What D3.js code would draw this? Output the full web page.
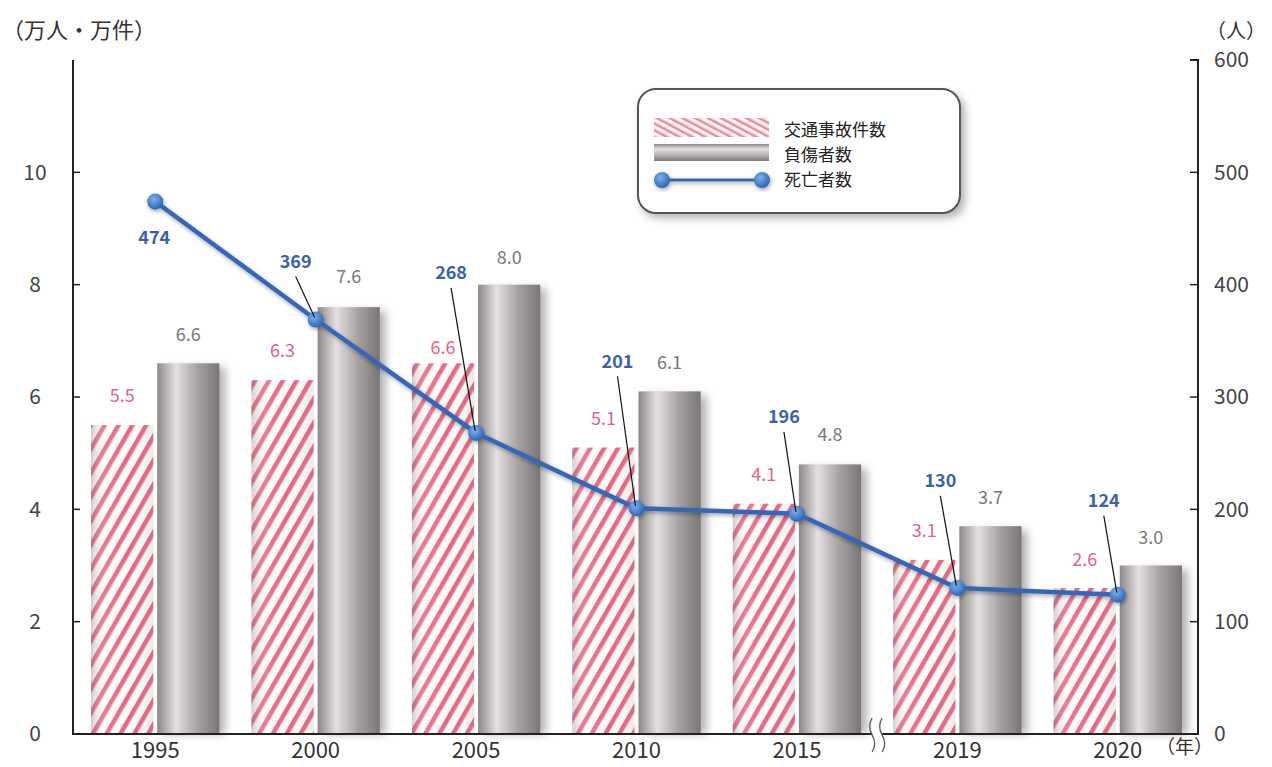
<!DOCTYPE html>
<html>
<head>
<meta charset="utf-8">
<script src="https://cdn.jsdelivr.net/npm/d3@7"></script>
<style>
  body { margin: 0; background: #fff; }
  svg text { font-family: "Noto Sans CJK JP", "Noto Sans", sans-serif; }
</style>
</head>
<body>
<div id="chart"></div>
<script>
var width = 1272;
var height = 767;

// data
var years = ["1995", "2000", "2005", "2010", "2015", "2019", "2020"];
var accidents = [5.5, 6.3, 6.6, 5.1, 4.1, 3.1, 2.6];   // 交通事故件数 (万件)
var injured = [6.6, 7.6, 8.0, 6.1, 4.8, 3.7, 3.0];     // 負傷者数 (万人)
var deaths = [474, 369, 268, 201, 196, 130, 124];      // 死亡者数 (人)
var leftTicks = [0, 2, 4, 6, 8, 10];
var rightTicks = [0, 100, 200, 300, 400, 500, 600];

// label placement tweaks (px), the source places some labels by hand
var accLabelDy = [-29, -29, -16, -29, -29, -29, -28];
var injLabelDy = [-29, -30, -27, -29, -30, -28, -28];
var deathLabelOff = [[-1, 36], [-20, -58], [-25, -160], [-19, -147], [-13, -97], [-17, -107], [-14, -94]];

var plotLeft = 73, plotRight = 1198, plotTop = 60, plotBottom = 734;

var svg = d3.select("#chart").append("svg")
    .attr("width", width)
    .attr("height", height);

var defs = svg.append("defs");

// stripes for the accident bars
var stripe = defs.append("pattern")
    .attr("id", "stripe")
    .attr("patternUnits", "userSpaceOnUse")
    .attr("width", 12).attr("height", 12)
    .attr("patternTransform", "rotate(30)");
stripe.append("rect").attr("width", 12).attr("height", 12).attr("fill", "#fffafa");
stripe.append("rect").attr("x", 1).attr("width", 4.5).attr("height", 12).attr("fill", "#e6657f");

var stripeLegend = defs.append("pattern")
    .attr("id", "stripeLegend")
    .attr("patternUnits", "userSpaceOnUse")
    .attr("width", 6).attr("height", 6)
    .attr("patternTransform", "rotate(-62)");
stripeLegend.append("rect").attr("width", 6).attr("height", 6).attr("fill", "#fff5f6");
stripeLegend.append("rect").attr("width", 2.5).attr("height", 6).attr("fill", "#ec8a9c");

// soft shading over the striped bars
var shade = defs.append("linearGradient").attr("id", "pinkShade")
    .attr("x1", "0%").attr("x2", "100%").attr("y1", "0%").attr("y2", "0%");
shade.append("stop").attr("offset", "0%").attr("stop-color", "#777").attr("stop-opacity", 0.35);
shade.append("stop").attr("offset", "20%").attr("stop-color", "#fff").attr("stop-opacity", 0.15);
shade.append("stop").attr("offset", "60%").attr("stop-color", "#fff").attr("stop-opacity", 0);
shade.append("stop").attr("offset", "100%").attr("stop-color", "#888").attr("stop-opacity", 0.15);

// metallic grey for the injured bars
var grey = defs.append("linearGradient").attr("id", "grey")
    .attr("x1", "0%").attr("x2", "100%").attr("y1", "0%").attr("y2", "0%");
grey.append("stop").attr("offset", "0%").attr("stop-color", "#8e8989");
grey.append("stop").attr("offset", "30%").attr("stop-color", "#e4e0e0");
grey.append("stop").attr("offset", "65%").attr("stop-color", "#a7a2a2");
grey.append("stop").attr("offset", "100%").attr("stop-color", "#7b7676");

var greyLegend = defs.append("linearGradient").attr("id", "greyLegend")
    .attr("x1", "0%").attr("x2", "0%").attr("y1", "0%").attr("y2", "100%");
greyLegend.append("stop").attr("offset", "0%").attr("stop-color", "#8e8989");
greyLegend.append("stop").attr("offset", "30%").attr("stop-color", "#e4e0e0");
greyLegend.append("stop").attr("offset", "70%").attr("stop-color", "#b0abab");
greyLegend.append("stop").attr("offset", "100%").attr("stop-color", "#7b7676");

var ball = defs.append("radialGradient").attr("id", "ball")
    .attr("cx", "40%").attr("cy", "35%").attr("r", "65%");
ball.append("stop").attr("offset", "0%").attr("stop-color", "#7fb0ea");
ball.append("stop").attr("offset", "100%").attr("stop-color", "#2c66b8");

var blur = defs.append("filter").attr("id", "blur")
    .attr("x", "-50%").attr("y", "-50%").attr("width", "200%").attr("height", "200%");
blur.append("feGaussianBlur").attr("stdDeviation", 4);

var glow = defs.append("filter").attr("id", "glow")
    .attr("x", "-20%").attr("y", "-20%").attr("width", "140%").attr("height", "140%");
glow.append("feGaussianBlur").attr("in", "SourceAlpha").attr("stdDeviation", 2).attr("result", "b");
glow.append("feOffset").attr("in", "b").attr("dx", 1).attr("dy", 2).attr("result", "o");
glow.append("feComponentTransfer").attr("in", "o").attr("result", "s")
    .append("feFuncA").attr("type", "linear").attr("slope", 0.35);
var gm = glow.append("feMerge");
gm.append("feMergeNode").attr("in", "s");
gm.append("feMergeNode").attr("in", "SourceGraphic");

// scales
var x0 = d3.scaleBand().domain(years).range([plotLeft + 2, plotRight]).paddingInner(0.2).paddingOuter(0.1);
var x1 = d3.scaleBand().domain(["acc", "inj"]).range([0, x0.bandwidth()]).paddingInner(0.06);
var yL = d3.scaleLinear().domain([0, 12]).range([plotBottom, plotTop]);
var yR = d3.scaleLinear().domain([0, 600]).range([plotBottom, plotTop]);

var rows = years.map(function (y, i) {
    return { year: y, acc: accidents[i], inj: injured[i], death: deaths[i], i: i };
});

// injured bar shadows
svg.append("g").selectAll("rect")
    .data(rows).enter().append("rect")
    .attr("x", function (d) { return x0(d.year) + x1("inj") + 6; })
    .attr("y", function (d) { return yL(d.inj) + 4; })
    .attr("width", x1.bandwidth())
    .attr("height", function (d) { return plotBottom - yL(d.inj) - 4; })
    .attr("fill", "#000").attr("opacity", 0.3)
    .attr("filter", "url(#blur)");

// accident bars
var accG = svg.append("g");
accG.selectAll("rect.acc")
    .data(rows).enter().append("rect")
    .attr("class", "acc")
    .attr("x", function (d) { return x0(d.year) + x1("acc"); })
    .attr("y", function (d) { return yL(d.acc); })
    .attr("width", x1.bandwidth())
    .attr("height", function (d) { return plotBottom - yL(d.acc); })
    .attr("fill", "url(#stripe)");
accG.selectAll("rect.accShade")
    .data(rows).enter().append("rect")
    .attr("class", "accShade")
    .attr("x", function (d) { return x0(d.year) + x1("acc"); })
    .attr("y", function (d) { return yL(d.acc); })
    .attr("width", x1.bandwidth())
    .attr("height", function (d) { return plotBottom - yL(d.acc); })
    .attr("fill", "url(#pinkShade)");

// injured bars
svg.append("g").selectAll("rect")
    .data(rows).enter().append("rect")
    .attr("x", function (d) { return x0(d.year) + x1("inj"); })
    .attr("y", function (d) { return yL(d.inj); })
    .attr("width", x1.bandwidth())
    .attr("height", function (d) { return plotBottom - yL(d.inj); })
    .attr("fill", "url(#grey)");

// axes
var axisG = svg.append("g").attr("stroke", "#222").attr("stroke-width", 2).attr("fill", "none");
axisG.append("path").attr("d", "M" + plotLeft + "," + plotTop + "V" + plotBottom + "H" + plotRight + "V" + plotTop + "H" + (plotRight - 8));
axisG.selectAll("line.l").data(leftTicks.slice(1)).enter().append("line")
    .attr("x1", plotLeft).attr("x2", plotLeft + 7)
    .attr("y1", function (d) { return yL(d); }).attr("y2", function (d) { return yL(d); })
    .attr("stroke-width", 1.5);
axisG.selectAll("line.r").data(rightTicks.slice(1)).enter().append("line")
    .attr("x1", plotRight - 8).attr("x2", plotRight)
    .attr("y1", function (d) { return yR(d); }).attr("y2", function (d) { return yR(d); })
    .attr("stroke-width", 1.5);

svg.append("g").selectAll("text")
    .data(leftTicks).enter().append("text")
    .attr("x", 35).attr("y", function (d) { return yL(d); })
    .attr("dy", "0.35em")
    .attr("text-anchor", "middle")
    .attr("font-size", 21).attr("fill", "#444")
    .text(function (d) { return d; });

svg.append("g").selectAll("text")
    .data(rightTicks).enter().append("text")
    .attr("x", 1214).attr("y", function (d) { return yR(d); })
    .attr("dy", "0.35em")
    .attr("font-size", 21).attr("fill", "#444")
    .text(function (d) { return d; });

svg.append("g").selectAll("text")
    .data(years).enter().append("text")
    .attr("x", function (d) { return x0(d) + x0.bandwidth() / 2; })
    .attr("y", 758)
    .attr("text-anchor", "middle")
    .attr("font-size", 22).attr("fill", "#333")
    .text(function (d) { return d; });

svg.append("text").attr("x", 2).attr("y", 38).attr("font-size", 22).attr("fill", "#333").text("（万人・万件）");
svg.append("text").attr("x", 1206).attr("y", 38).attr("font-size", 20).attr("fill", "#333").text("（人）");
svg.append("text").attr("x", 1156).attr("y", 754).attr("font-size", 19).attr("fill", "#333").text("（年）");

// axis break between 2015 and 2019
var bx = (x0("2015") + x0("2019") + x0.bandwidth()) / 2;
svg.append("rect").attr("x", bx - 5).attr("y", plotBottom - 14).attr("width", 10).attr("height", 34).attr("fill", "#fff");
[-5, 5].forEach(function (dx) {
    svg.append("path")
        .attr("d", "M" + (bx + dx) + "," + (plotBottom - 16) + " q-5,8 0,17 q5,9 0,17")
        .attr("fill", "none").attr("stroke", "#555").attr("stroke-width", 1.3);
});

// death line
var cx = function (d) { return x0(d.year) + x0.bandwidth() / 2; };
var line = d3.line().x(cx).y(function (d) { return yR(d.death); });

var lineG = svg.append("g").attr("filter", "url(#glow)");
lineG.append("path").datum(rows)
    .attr("d", line)
    .attr("fill", "none")
    .attr("stroke", "#3466b8")
    .attr("stroke-width", 4.5);
lineG.selectAll("circle").data(rows).enter().append("circle")
    .attr("cx", cx).attr("cy", function (d) { return yR(d.death); })
    .attr("r", 8).attr("fill", "url(#ball)");

// leader lines for the death labels
svg.append("g").selectAll("line")
    .data(rows.filter(function (d) { return d.i > 0; })).enter().append("line")
    .attr("x1", function (d) { return cx(d) + deathLabelOff[d.i][0]; })
    .attr("y1", function (d) { return yR(d.death) + deathLabelOff[d.i][1] + 15; })
    .attr("x2", function (d) { return cx(d) - 1; })
    .attr("y2", function (d) { return yR(d.death) - 2; })
    .attr("stroke", "#111").attr("stroke-width", 1.2);

// value labels
svg.append("g").selectAll("text")
    .data(rows).enter().append("text")
    .attr("x", function (d) { return x0(d.year) + x1("acc") + x1.bandwidth() / 2; })
    .attr("y", function (d) { return yL(d.acc) + accLabelDy[d.i]; })
    .attr("dy", "0.35em").attr("text-anchor", "middle")
    .attr("font-size", 18).attr("fill", "#e0667f")
    .text(function (d) { return d.acc.toFixed(1); });

svg.append("g").selectAll("text")
    .data(rows).enter().append("text")
    .attr("x", function (d) { return x0(d.year) + x1("inj") + x1.bandwidth() / 2; })
    .attr("y", function (d) { return yL(d.inj) + injLabelDy[d.i]; })
    .attr("dy", "0.35em").attr("text-anchor", "middle")
    .attr("font-size", 18).attr("fill", "#777")
    .text(function (d) { return d.inj.toFixed(1); });

svg.append("g").selectAll("text")
    .data(rows).enter().append("text")
    .attr("x", function (d) { return cx(d) + deathLabelOff[d.i][0]; })
    .attr("y", function (d) { return yR(d.death) + deathLabelOff[d.i][1]; })
    .attr("dy", "0.35em").attr("text-anchor", "middle")
    .attr("font-size", 18).attr("font-weight", "bold").attr("fill", "#3a62a8")
    .text(function (d) { return d.death; });

// legend
var lg = svg.append("g").attr("transform", "translate(638,89)");
lg.append("rect").attr("x", 3).attr("y", 4).attr("width", 324).attr("height", 125).attr("rx", 18)
    .attr("fill", "#000").attr("opacity", 0.3).attr("filter", "url(#blur)");
lg.append("rect").attr("width", 322).attr("height", 124).attr("rx", 18)
    .attr("fill", "#fff").attr("stroke", "#555").attr("stroke-width", 2);
lg.append("rect").attr("x", 16).attr("y", 29).attr("width", 115).attr("height", 19).attr("fill", "url(#stripeLegend)");
lg.append("rect").attr("x", 16).attr("y", 55).attr("width", 115).attr("height", 17).attr("fill", "url(#greyLegend)");
var lgLine = lg.append("g").attr("filter", "url(#glow)");
lgLine.append("line").attr("x1", 24).attr("x2", 124).attr("y1", 91).attr("y2", 91)
    .attr("stroke", "#3466b8").attr("stroke-width", 3);
lgLine.append("circle").attr("cx", 24).attr("cy", 91).attr("r", 8).attr("fill", "url(#ball)");
lgLine.append("circle").attr("cx", 124).attr("cy", 91).attr("r", 8).attr("fill", "url(#ball)");
var legendNames = ["交通事故件数", "負傷者数", "死亡者数"];
lg.selectAll("text.name").data(legendNames).enter().append("text")
    .attr("x", 146).attr("y", function (d, i) { return 41 + i * 25; })
    .attr("dy", "0.35em")
    .attr("font-size", 17).attr("fill", "#222")
    .text(function (d) { return d; });
</script>
</body>
</html>
